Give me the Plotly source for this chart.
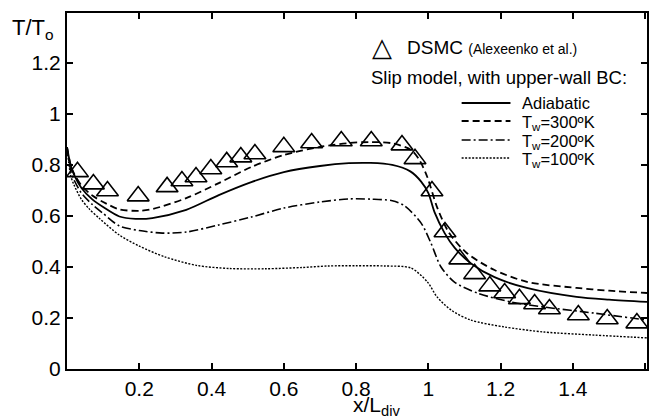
import plotly.graph_objects as go

# ---------------- data ----------------
dsmc_x = [0.029, 0.073, 0.112, 0.197, 0.277, 0.318, 0.357, 0.398, 0.442, 0.481, 0.52,
          0.6, 0.677, 0.759, 0.842, 0.927, 0.963, 1.01, 1.046, 1.087, 1.128, 1.17,
          1.211, 1.252, 1.294, 1.335, 1.415, 1.495, 1.577]
dsmc_y = [0.773, 0.725, 0.698, 0.678, 0.714, 0.737, 0.753, 0.784, 0.812, 0.831, 0.843,
          0.871, 0.886, 0.894, 0.894, 0.878, 0.824, 0.698, 0.537, 0.431, 0.373, 0.325,
          0.298, 0.275, 0.255, 0.235, 0.212, 0.196, 0.18]

adiab_x = [0, 0.01, 0.02, 0.04, 0.07, 0.1, 0.145, 0.19, 0.236, 0.33, 0.42, 0.51, 0.6,
           0.7, 0.78, 0.84, 0.9, 0.95, 0.98, 1.0, 1.017, 1.045, 1.073, 1.117, 1.183,
           1.275, 1.41, 1.5, 1.605]
adiab_y = [0.87, 0.80, 0.76, 0.71, 0.665, 0.635, 0.598, 0.589, 0.592, 0.624, 0.682,
           0.733, 0.772, 0.796, 0.807, 0.808, 0.80, 0.775, 0.735, 0.69, 0.615, 0.533,
           0.475, 0.415, 0.36, 0.317, 0.283, 0.272, 0.263]

t300_x = [0, 0.01, 0.02, 0.04, 0.07, 0.1, 0.145, 0.2, 0.236, 0.33, 0.42, 0.51, 0.6,
          0.7, 0.78, 0.84, 0.9, 0.952, 0.975, 0.997, 1.024, 1.056, 1.106, 1.183,
          1.275, 1.41, 1.5, 1.605]
t300_y = [0.87, 0.80, 0.765, 0.72, 0.68, 0.655, 0.626, 0.62, 0.627, 0.67, 0.729,
          0.792, 0.839, 0.871, 0.886, 0.89, 0.885, 0.859, 0.82, 0.753, 0.635, 0.537,
          0.455, 0.388, 0.341, 0.318, 0.307, 0.298]

t200_x = [0, 0.01, 0.02, 0.04, 0.07, 0.1, 0.145, 0.2, 0.264, 0.33, 0.42, 0.51, 0.6,
          0.7, 0.78, 0.84, 0.9, 0.934, 0.98, 1.007, 1.035, 1.073, 1.137, 1.228, 1.32,
          1.459, 1.605]
t200_y = [0.87, 0.78, 0.74, 0.69, 0.645, 0.61, 0.561, 0.543, 0.533, 0.537, 0.565,
          0.596, 0.631, 0.655, 0.667, 0.666, 0.66, 0.64, 0.572, 0.494, 0.40, 0.34,
          0.297, 0.263, 0.243, 0.219, 0.192]

t100_x = [0, 0.01, 0.02, 0.04, 0.06, 0.09, 0.145, 0.2, 0.27, 0.36, 0.45, 0.55, 0.65,
          0.723, 0.8, 0.88, 0.952, 0.997, 1.024, 1.063, 1.117, 1.21, 1.32, 1.459, 1.605]
t100_y = [0.87, 0.76, 0.72, 0.665, 0.63, 0.59, 0.525, 0.482, 0.44, 0.406, 0.394,
          0.393, 0.398, 0.404, 0.405, 0.404, 0.396, 0.342, 0.283, 0.231, 0.192, 0.165,
          0.145, 0.133, 0.122]

x_ticks = [0.2, 0.4, 0.6, 0.8, 1.0, 1.2, 1.4, 1.6]
x_tick_text = ["0.2", "0.4", "0.6", "0.8", "1", "1.2", "1.4", "1.6"]
y_ticks = [0, 0.2, 0.4, 0.6, 0.8, 1.0, 1.2]
y_tick_text = ["0", "0.2", "0.4", "0.6", "0.8", "1", "1.2"]

legend_labels = ["Adiabatic", "T<sub>w</sub>=300ºK", "T<sub>w</sub>=200ºK", "T<sub>w</sub>=100ºK"]

# ---------------- figure ----------------
FONT = "Liberation Sans, Arial, sans-serif"
W, H = 653, 418
L, R, T, B = 67, 4, 13, 49
PW, PH = W - L - R, H - T - B


def px(xp):
    return (xp - L) / PW


def py(yp):
    return (H - B - yp) / PH


fig = go.Figure()

line_specs = [
    (adiab_x, adiab_y, "solid", 1.8),
    (t300_x, t300_y, "7px,4px", 1.8),
    (t200_x, t200_y, "9px,3px,2px,3px", 1.6),
    (t100_x, t100_y, "2px,1.5px", 1.4),
]
for (xs, ys, dash, w), name in zip(line_specs, legend_labels):
    fig.add_trace(go.Scatter(x=xs, y=ys, mode="lines", name=name, showlegend=False,
                             line=dict(color="black", width=w, dash=dash,
                                       shape="spline", smoothing=0.8)))

fig.add_trace(go.Scatter(x=dsmc_x, y=dsmc_y, mode="markers", name="DSMC", showlegend=False,
                         marker=dict(symbol="triangle-up-open", size=19,
                                     color="black", line=dict(width=1.6, color="black"))))

axis_common = dict(showline=True, linecolor="black", linewidth=2, mirror="ticks",
                   ticks="inside", ticklen=6, tickwidth=1.5, tickcolor="black",
                   showgrid=False, zeroline=False,
                   tickfont=dict(family=FONT, size=21, color="black"))
fig.update_xaxes(range=[0, 1.605], tickvals=x_ticks, ticktext=x_tick_text, **axis_common)
fig.update_yaxes(range=[0, 1.396], tickvals=y_ticks, ticktext=y_tick_text, **axis_common)


def note(xp, yp, text, size, xanchor="center", family=FONT):
    return dict(x=px(xp), y=py(yp), xref="paper", yref="paper", text=text,
                xanchor=xanchor, yanchor="middle", showarrow=False,
                font=dict(family=family, size=size, color="black"))


ann = []
# axis titles
ann.append(note(33, 29, "T/T<sub>o</sub>", 22))
ann.append(note(378, 406, "x/L<sub>div</sub>", 21))
# legend header
ann.append(note(383, 47, "△", 26, family="DejaVu Sans"))
ann.append(note(406, 48, "DSMC <span style='font-size:14px'>(Alexeenko et al.)</span>", 19, "left"))
ann.append(note(370, 78, "Slip model, with upper-wall BC:", 18.5, "left"))

rows = [103, 121, 140, 158]
shapes = []
for (xs, ys, dash, w), label, ry in zip(line_specs, legend_labels, rows):
    shapes.append(dict(type="line", xref="paper", yref="paper",
                       x0=px(463), x1=px(512), y0=py(ry), y1=py(ry),
                       line=dict(color="black", width=w, dash=dash)))
    ann.append(note(522, ry + (2 if "sub" in label else 0), label, 16.5, "left"))

fig.update_layout(width=W, height=H, margin=dict(l=L, r=R, t=T, b=B),
                  paper_bgcolor="white", plot_bgcolor="white",
                  annotations=ann, shapes=shapes, showlegend=False)

fig.write_html("out.html")
